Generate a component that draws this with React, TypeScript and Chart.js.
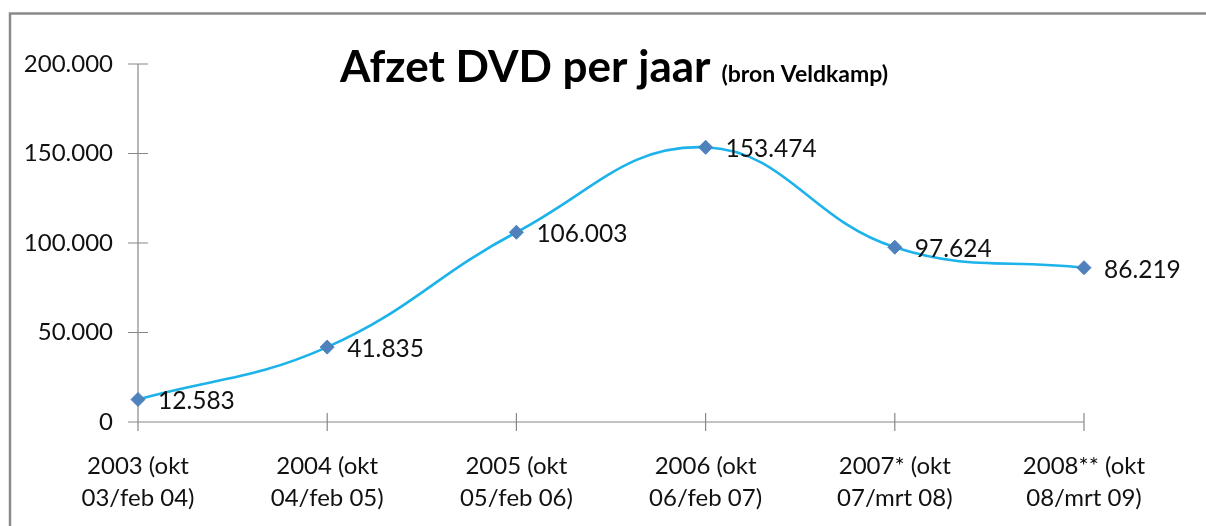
import React, { useEffect, useRef } from "react";
import { Chart, registerables } from "chart.js";

Chart.register(...registerables);

const categories: string[][] = [
  ["2003 (okt", "03/feb 04)"],
  ["2004 (okt", "04/feb 05)"],
  ["2005 (okt", "05/feb 06)"],
  ["2006 (okt", "06/feb 07)"],
  ["2007* (okt", "07/mrt 08)"],
  ["2008** (okt", "08/mrt 09)"],
];
const sales: number[] = [12583, 41835, 106003, 153474, 97624, 86219];
const titleMain = "Afzet DVD per jaar";
const titleSub = "(bron Veldkamp)";
const yMin = 0;
const yMax = 200000;
const yStep = 50000;

const FONT = "Lato, 'Open Sans', sans-serif";
const fmt = (v: number) => String(Math.round(v)).replace(/\B(?=(\d{3})+(?!\d))/g, ".");

const decor = {
  id: "decor",
  beforeDraw(chart: any) {
    const ctx = chart.ctx;
    ctx.save();
    ctx.fillStyle = "#ffffff";
    ctx.fillRect(0, 0, chart.width, chart.height);
    ctx.strokeStyle = "#8a8a8a";
    ctx.lineWidth = 2.5;
    ctx.strokeRect(10, 13.5, 1300, 700);
    // title
    ctx.fillStyle = "#000000";
    ctx.textBaseline = "alphabetic";
    ctx.textAlign = "left";
    ctx.font = `bold 44px ${FONT}`;
    ctx.fillText(titleMain, 340, 82);
    const w = ctx.measureText(titleMain).width;
    ctx.font = `bold 23px ${FONT}`;
    ctx.fillText(titleSub, 340 + w + 11, 82);
    ctx.restore();
  },
  beforeDatasetsDraw(chart: any) {
    const ctx = chart.ctx;
    const xs = chart.scales.x;
    const ys = chart.scales.y;
    const area = chart.chartArea;
    ctx.save();
    ctx.strokeStyle = "#888888";
    ctx.lineWidth = 1.2;
    ctx.beginPath();
    ctx.moveTo(area.left, area.top);
    ctx.lineTo(area.left, area.bottom);
    ctx.moveTo(area.left, area.bottom);
    ctx.lineTo(area.right, area.bottom);
    ys.ticks.forEach((_t: any, i: number) => {
      const y = ys.getPixelForTick(i);
      ctx.moveTo(area.left - 10, y);
      ctx.lineTo(area.left + 10, y);
    });
    xs.ticks.forEach((_t: any, i: number) => {
      const x = xs.getPixelForTick(i);
      ctx.moveTo(x, area.bottom - 9);
      ctx.lineTo(x, area.bottom + 9);
    });
    ctx.stroke();
    ctx.restore();
  },
  afterDatasetsDraw(chart: any) {
    const ctx = chart.ctx;
    const meta = chart.getDatasetMeta(0);
    const data = chart.data.datasets[0].data as number[];
    ctx.save();
    ctx.fillStyle = "#111111";
    ctx.font = `24.5px ${FONT}`;
    ctx.textAlign = "left";
    ctx.textBaseline = "middle";
    meta.data.forEach((pt: any, i: number) => {
      ctx.fillText(fmt(data[i]), pt.x + 20, pt.y + 2);
    });
    ctx.restore();
  },
};

export default function App() {
  const ref = useRef<HTMLCanvasElement | null>(null);
  useEffect(() => {
    document.body.style.margin = "0";
    document.body.style.overflow = "hidden";
    const chart = new Chart(ref.current as HTMLCanvasElement, {
      type: "line",
      data: {
        labels: categories,
        datasets: [
          {
            data: sales,
            borderColor: "#1cb2ea",
            borderWidth: 2.6,
            tension: 0.42,
            pointStyle: "rectRot",
            pointRadius: 7,
            pointHoverRadius: 7,
            pointBackgroundColor: "#4f81bd",
            pointBorderColor: "#4f81bd",
            pointBorderWidth: 1,
            clip: false as any,
          },
        ],
      },
      options: {
        animation: false,
        responsive: true,
        maintainAspectRatio: false,
        layout: { padding: { top: 64, right: 122, left: 0, bottom: 0 } },
        plugins: { legend: { display: false }, title: { display: false }, tooltip: { enabled: false } },
        scales: {
          x: {
            offset: false,
            grid: { display: false, drawTicks: false },
            border: { display: false },
            ticks: {
              color: "#111111",
              padding: 28,
              maxRotation: 0,
              autoSkip: false,
              font: { family: FONT, size: 24, lineHeight: "32px" as any },
            },
            afterFit: (s: any) => {
              s.height = 104;
            },
          },
          y: {
            min: yMin,
            max: yMax,
            grid: { display: false, drawTicks: false },
            border: { display: false },
            ticks: {
              stepSize: yStep,
              color: "#111111",
              padding: 25,
              font: { family: FONT, size: 24 },
              callback: (v: any) => fmt(Number(v)),
            },
            afterFit: (s: any) => {
              s.width = 138;
            },
          },
        },
      },
      plugins: [decor],
    });
    return () => chart.destroy();
  }, []);
  return (
    <div style={{ position: "fixed", left: 0, top: 0, width: 1206, height: 526, overflow: "hidden", background: "#fff" }}>
      <canvas ref={ref} style={{ width: "100%", height: "100%" }} />
    </div>
  );
}
